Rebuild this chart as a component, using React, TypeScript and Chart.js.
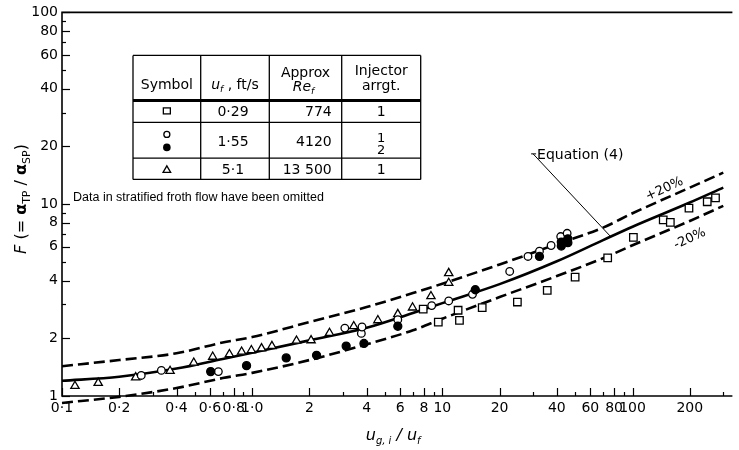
import React, { useEffect, useRef } from "react";
import { Chart, registerables } from "chart.js";

Chart.register(...registerables);

// ---- axis ticks ----
const X_TICKS = [0.1, 0.2, 0.4, 0.6, 0.8, 1, 2, 4, 6, 8, 10, 20, 40, 60, 80, 100, 200];
const X_TICK_LABELS = ["0·1", "0·2", "0·4", "0·6", "0·8", "1·0", "2", "4", "6", "8", "10", "20", "40", "60", "80", "100", "200"];
const X_MINOR = [0.3, 0.5, 0.7, 0.9, 3, 5, 7, 9, 30, 50, 70, 90, 300];
const Y_TICKS = [1, 2, 4, 6, 8, 10, 20, 40, 60, 80, 100];
const Y_TICK_LABELS = ["1", "2", "4", "6", "8", "10", "20", "40", "60", "80", "100"];
const Y_MINOR = [3, 5, 7, 9, 30, 50, 70, 90];

// ---- curves ----
const CURVE_X = [0.1, 0.2, 0.4, 0.7, 1, 2, 4, 7, 10, 20, 40, 70, 100, 200, 300];
const EQ4_Y = [1.2, 1.26, 1.39, 1.56, 1.68, 1.95, 2.27, 2.71, 3.05, 3.83, 5.04, 6.5, 7.63, 10.2, 12.2];
const PLUS20_Y = [1.43, 1.54, 1.67, 1.9, 2.03, 2.43, 2.91, 3.44, 3.85, 4.85, 6.19, 7.55, 8.97, 12.2, 14.6];
const MINUS20_Y = [0.92, 0.99, 1.1, 1.24, 1.32, 1.54, 1.86, 2.2, 2.53, 3.28, 4.22, 5.23, 6.11, 8.18, 9.8];

// ---- data points ----
const SQUARE_X = [7.93, 9.52, 12.1, 12.3, 16.2, 24.8, 35.6, 49.9, 74, 101, 145, 158, 198, 247, 273];
const SQUARE_Y = [2.84, 2.43, 2.8, 2.48, 2.89, 3.09, 3.55, 4.17, 5.25, 6.72, 8.28, 8.04, 9.55, 10.3, 10.8];
const OPEN_CIRCLE_X = [0.261, 0.333, 0.664, 3.07, 3.75, 3.78, 5.83, 8.79, 10.8, 14.4, 22.6, 28.2, 32.4, 37.3, 41.9, 45.3];
const OPEN_CIRCLE_Y = [1.28, 1.36, 1.34, 2.26, 2.12, 2.29, 2.5, 2.96, 3.13, 3.39, 4.46, 5.34, 5.69, 6.09, 6.78, 7.05];
const FILLED_CIRCLE_X = [0.605, 0.934, 1.51, 2.18, 3.12, 3.87, 5.83, 14.9, 32.4, 42.2, 42.2, 45.7, 45.7];
const FILLED_CIRCLE_Y = [1.34, 1.44, 1.58, 1.63, 1.82, 1.88, 2.31, 3.58, 5.34, 6.05, 6.35, 6.3, 6.6];
const TRIANGLE_X = [0.117, 0.155, 0.244, 0.37, 0.493, 0.62, 0.759, 0.88, 0.99, 1.12, 1.27, 1.71, 2.04, 2.55, 3.42, 4.58, 5.83, 6.97, 8.71, 10.8, 10.8];
const TRIANGLE_Y = [1.127, 1.17, 1.25, 1.35, 1.49, 1.6, 1.65, 1.7, 1.73, 1.77, 1.82, 1.94, 1.95, 2.13, 2.31, 2.48, 2.67, 2.89, 3.31, 3.88, 4.37];

// ---- legend table ----
const TABLE_UF = ["0·29", "1·55", "5·1"];
const TABLE_RE = ["774", "4120", "13 500"];
const TABLE_INJ = [["1"], ["1", "2"], ["1"]];
const NOTE = "Data in stratified froth flow have been omitted";
const EQ_LABEL = "Equation (4)";
const PLUS_LABEL = "+20%";
const MINUS_LABEL = "-20%";

const FONT = '"DejaVu Sans", "Liberation Sans", sans-serif';
const FONT_NOTE = '"Liberation Sans", "DejaVu Sans", sans-serif';

const zip = (xs: number[], ys: number[]) => xs.map((x, i) => ({ x, y: ys[i] }));

type Part = { text: string; font: string; dy?: number };

function drawParts(ctx: CanvasRenderingContext2D, parts: Part[], x: number, y: number, align: "left" | "center" | "right" = "left") {
  let total = 0;
  const widths = parts.map((p) => {
    ctx.font = p.font;
    const w = ctx.measureText(p.text).width;
    total += w;
    return w;
  });
  let cx = align === "center" ? x - total / 2 : align === "right" ? x - total : x;
  ctx.textAlign = "left";
  ctx.textBaseline = "alphabetic";
  parts.forEach((p, i) => {
    ctx.font = p.font;
    ctx.fillText(p.text, cx, y + (p.dy || 0));
    cx += widths[i];
  });
}

function seg(ctx: CanvasRenderingContext2D, x1: number, y1: number, x2: number, y2: number) {
  ctx.beginPath();
  ctx.moveTo(x1, y1);
  ctx.lineTo(x2, y2);
  ctx.stroke();
}

const decorPlugin = {
  id: "decor",
  afterDraw(chart: any) {
    const { ctx, chartArea: a, scales } = chart;
    const xs = scales.x;
    const ys = scales.y;
    ctx.save();
    ctx.strokeStyle = "#000";
    ctx.fillStyle = "#000";

    // axes frame (left, bottom, top)
    ctx.lineWidth = 1.6;
    ctx.beginPath();
    ctx.moveTo(a.right, a.top);
    ctx.lineTo(a.left, a.top);
    ctx.lineTo(a.left, a.bottom);
    ctx.lineTo(a.right, a.bottom);
    ctx.stroke();

    // tick marks (inward)
    ctx.lineWidth = 1.2;
    X_TICKS.forEach((v) => {
      const px = Math.round(xs.getPixelForValue(v)) + 0.5;
      seg(ctx, px, a.bottom, px, a.bottom - 8);
    });
    X_MINOR.forEach((v) => {
      const px = Math.round(xs.getPixelForValue(v)) + 0.5;
      seg(ctx, px, a.bottom, px, a.bottom - 4);
    });
    Y_TICKS.forEach((v) => {
      const py = Math.round(ys.getPixelForValue(v)) + 0.5;
      seg(ctx, a.left, py, a.left + 8, py);
    });
    Y_MINOR.forEach((v) => {
      const py = Math.round(ys.getPixelForValue(v)) + 0.5;
      seg(ctx, a.left, py, a.left + 4, py);
    });

    // axis titles
    const big = `16px ${FONT}`;
    const bigI = `italic 16px ${FONT}`;
    const sub = `11px ${FONT}`;
    const subI = `italic 10px ${FONT}`;
    drawParts(
      ctx,
      [
        { text: "u", font: `italic 16px ${FONT}` },
        { text: "g, i", font: subI, dy: 4 },
        { text: " / ", font: `italic 16px ${FONT}` },
        { text: "u", font: `italic 16px ${FONT}` },
        { text: "f", font: subI, dy: 4 },
      ],
      (a.left + a.right) / 2 - 4,
      440,
      "center"
    );
    ctx.save();
    ctx.translate(26, 199);
    ctx.rotate(-Math.PI / 2);
    drawParts(
      ctx,
      [
        { text: "F", font: bigI },
        { text: " (= ", font: big },
        { text: "α", font: `bold 16px ${FONT}` },
        { text: "TP", font: sub, dy: 4 },
        { text: " / ", font: big },
        { text: "α", font: `bold 16px ${FONT}` },
        { text: "SP", font: sub, dy: 4 },
        { text: ")", font: big },
      ],
      0,
      0,
      "center"
    );
    ctx.restore();

    // legend table
    const L = a.left + 71;
    const T = a.top + 43;
    const cols = [0, 67.7, 136.3, 208.7, 287.7].map((c) => L + c);
    const rows = [0, 45, 67, 102.7, 124].map((r) => T + r);
    ctx.lineWidth = 1.3;
    rows.forEach((ry, i) => {
      if (i === 1) return;
      seg(ctx, cols[0], ry, cols[4], ry);
    });
    ctx.lineWidth = 3;
    seg(ctx, cols[0], rows[1], cols[4], rows[1]);
    ctx.lineWidth = 1.3;
    cols.forEach((cx) => seg(ctx, cx, rows[0], cx, rows[4]));

    const f14 = `14px ${FONT}`;
    const f14i = `italic 14px ${FONT}`;
    const cSym = (cols[0] + cols[1]) / 2;
    const cUf = (cols[1] + cols[2]) / 2;
    const cRe = (cols[2] + cols[3]) / 2;
    const rRe = cols[3] - 10;
    const cInj = (cols[3] + cols[4]) / 2;
    drawParts(ctx, [{ text: "Symbol", font: f14 }], cSym, T + 34, "center");
    drawParts(
      ctx,
      [
        { text: "u", font: f14i },
        { text: "f", font: `italic 9px ${FONT}`, dy: 3 },
        { text: " , ft/s", font: f14 },
      ],
      cUf,
      T + 34,
      "center"
    );
    drawParts(ctx, [{ text: "Approx", font: f14 }], cRe, T + 22, "center");
    drawParts(
      ctx,
      [
        { text: "Re", font: f14i },
        { text: "f", font: `italic 9px ${FONT}`, dy: 3 },
      ],
      cRe - 2,
      T + 36,
      "center"
    );
    drawParts(ctx, [{ text: "Injector", font: f14 }], cInj, T + 20, "center");
    drawParts(ctx, [{ text: "arrgt.", font: f14 }], cInj, T + 35, "center");

    const rowBase = [T + 61, T + 91, T + 119];
    TABLE_UF.forEach((t, i) => drawParts(ctx, [{ text: t, font: f14 }], cUf - 2, rowBase[i], "center"));
    TABLE_RE.forEach((t, i) => drawParts(ctx, [{ text: t, font: f14 }], rRe, rowBase[i], "right"));
    TABLE_INJ.forEach((arr, i) => {
      if (arr.length === 1) {
        drawParts(ctx, [{ text: arr[0], font: f14 }], cInj, rowBase[i], "center");
      } else {
        drawParts(ctx, [{ text: arr[0], font: `13px ${FONT}` }], cInj, rowBase[i] - 4, "center");
        drawParts(ctx, [{ text: arr[1], font: `13px ${FONT}` }], cInj, rowBase[i] + 8, "center");
      }
    });

    // table symbols
    ctx.lineWidth = 1.3;
    ctx.strokeRect(cSym - 3.5, T + 52.5, 7, 6);
    ctx.beginPath();
    ctx.arc(cSym, T + 79, 3, 0, Math.PI * 2);
    ctx.stroke();
    ctx.beginPath();
    ctx.arc(cSym, T + 92, 3.8, 0, Math.PI * 2);
    ctx.fill();
    ctx.beginPath();
    ctx.moveTo(cSym, T + 110.5);
    ctx.lineTo(cSym + 3.8, T + 117);
    ctx.lineTo(cSym - 3.8, T + 117);
    ctx.closePath();
    ctx.stroke();

    // note
    drawParts(ctx, [{ text: NOTE, font: `12.5px ${FONT_NOTE}` }], a.left + 11, 201, "left");

    // Equation (4) annotation
    const ex = xs.getPixelForValue(77);
    const ey = ys.getPixelForValue(6.75);
    const tx = xs.getPixelForValue(30);
    const ty = ys.getPixelForValue(18.3);
    ctx.lineWidth = 1;
    seg(ctx, tx, ty, ex, ey);
    seg(ctx, tx - 2, ty, tx + 3, ty);
    drawParts(ctx, [{ text: EQ_LABEL, font: f14 }], tx + 4, ty + 5, "left");

    // +/- 20 % labels
    const drawRot = (text: string, vx: number, vy: number) => {
      ctx.save();
      ctx.translate(xs.getPixelForValue(vx), ys.getPixelForValue(vy));
      ctx.rotate((-25 * Math.PI) / 180);
      ctx.font = `13px ${FONT}`;
      ctx.textAlign = "center";
      ctx.textBaseline = "middle";
      ctx.fillText(text, 0, 0);
      ctx.restore();
    };
    drawRot(PLUS_LABEL, 147, 12.0);
    drawRot(MINUS_LABEL, 200, 6.6);

    ctx.restore();
  },
};

export default function App() {
  const ref = useRef<HTMLCanvasElement | null>(null);
  useEffect(() => {
    if (!ref.current) return;
    const curve = (ys: number[], dashed: boolean) => ({
      type: "line" as const,
      data: zip(CURVE_X, ys),
      showLine: true,
      borderColor: "#000",
      borderWidth: 2.6,
      borderDash: dashed ? [11, 5] : [],
      pointRadius: 0,
      tension: 0.4,
      cubicInterpolationMode: "monotone" as const,
      fill: false,
      clip: false as any,
    });
    const pts = (xs: number[], ys: number[], style: string, r: number, bg: string) => ({
      type: "scatter" as const,
      data: zip(xs, ys),
      pointStyle: style,
      pointRadius: r,
      pointBorderWidth: 1.3,
      pointBorderColor: "#000",
      pointBackgroundColor: bg,
      showLine: false,
    });
    const chart = new Chart(ref.current, {
      type: "scatter",
      data: {
        datasets: [
          pts(FILLED_CIRCLE_X, FILLED_CIRCLE_Y, "circle", 4, "#000"),
          pts(OPEN_CIRCLE_X, OPEN_CIRCLE_Y, "circle", 3.8, "#fff"),
          pts(SQUARE_X, SQUARE_Y, "rect", 5.3, "#fff"),
          pts(TRIANGLE_X, TRIANGLE_Y, "triangle", 4.8, "#fff"),
          curve(EQ4_Y, false),
          curve(PLUS20_Y, true),
          curve(MINUS20_Y, true),
        ] as any,
      },
      options: {
        responsive: false,
        animation: false,
        devicePixelRatio: 1,
        layout: { padding: { top: 11, right: 0, left: 0, bottom: 0 } },
        plugins: { legend: { display: false }, tooltip: { enabled: false } },
        events: [],
        scales: {
          x: {
            type: "logarithmic",
            min: 0.1,
            max: 335,
            grid: { display: false, drawTicks: false },
            border: { display: false },
            afterBuildTicks: (s: any) => {
              s.ticks = X_TICKS.map((v) => ({ value: v }));
            },
            afterFit: (s: any) => {
              s.height = 54;
            },
            ticks: {
              autoSkip: false,
              maxRotation: 0,
              minRotation: 0,
              padding: 4,
              color: "#000",
              font: { family: FONT, size: 14 },
              callback: (v: any) => {
                const i = X_TICKS.indexOf(Number(v));
                return i >= 0 ? X_TICK_LABELS[i] : "";
              },
            },
          },
          y: {
            type: "logarithmic",
            min: 1,
            max: 100,
            grid: { display: false, drawTicks: false },
            border: { display: false },
            afterBuildTicks: (s: any) => {
              s.ticks = Y_TICKS.map((v) => ({ value: v }));
            },
            afterFit: (s: any) => {
              s.width = 62;
            },
            ticks: {
              autoSkip: false,
              padding: 4,
              color: "#000",
              font: { family: FONT, size: 14 },
              callback: (v: any) => {
                const i = Y_TICKS.indexOf(Number(v));
                return i >= 0 ? Y_TICK_LABELS[i] : "";
              },
            },
          },
        },
      } as any,
      plugins: [decorPlugin],
    });
    return () => chart.destroy();
  }, []);
  return (
    <div style={{ position: "absolute", left: 0, top: 0, width: 739, height: 450, background: "#fff" }}>
      <canvas ref={ref} width={739} height={450} style={{ display: "block" }} />
    </div>
  );
}
